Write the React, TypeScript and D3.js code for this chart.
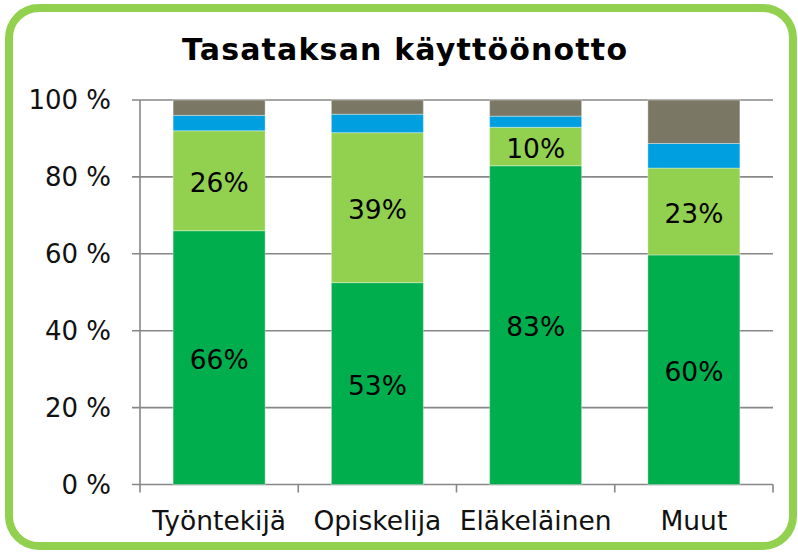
import React from "react";
import * as d3 from "d3";

const title = "Tasataksan käyttöönotto";
const categories = ["Työntekijä", "Opiskelija", "Eläkeläinen", "Muut"];
const seriesKeys = ["s1", "s2", "s3", "s4"];
const s1Values = [66, 52.5, 82.9, 59.7];
const s2Values = [26, 39, 10, 22.6];
const s3Values = [4, 4.8, 2.9, 6.4];
const s4Values = [4, 3.7, 4.2, 11.3];
const s1Labels = ["66%", "53%", "83%", "60%"];
const s2Labels = ["26%", "39%", "10%", "23%"];
const yTicks = [0, 20, 40, 60, 80, 100];
const colors = ["#00AE4D", "#92D050", "#009FDF", "#7A7865"];

export default function App() {
  const W = 798;
  const H = 553;
  const left = 140;
  const right = 773;
  const top = 100;
  const bottom = 484.5;

  const rows = categories.map((c, i) => ({
    cat: c,
    s1: s1Values[i],
    s2: s2Values[i],
    s3: s3Values[i],
    s4: s4Values[i],
  }));
  const stack = d3.stack<any>().keys(seriesKeys)(rows);

  const pi = 0.4186;
  const x = d3
    .scaleBand<string>()
    .domain(categories)
    .range([left, right])
    .paddingInner(pi)
    .paddingOuter(pi / 2);
  const y = d3.scaleLinear().domain([0, 100]).range([bottom, top]);
  const step = x.step();
  const font = "'DejaVu Sans', Verdana, sans-serif";
  const gridColor = "#878787";

  const labels = [s1Labels, s2Labels];

  return (
    <div style={{ position: "fixed", left: 0, top: 0 }}>
      <svg width={W} height={H} style={{ display: "block" }}>
        <rect x={0} y={0} width={W} height={H} fill="#fff" />
        <rect
          x={9}
          y={8}
          width={784}
          height={538}
          rx={30}
          ry={30}
          fill="#fff"
          stroke="#92D050"
          strokeWidth={8}
        />
        <text
          x={404.5}
          y={60}
          textAnchor="middle"
          fontFamily={font}
          fontWeight="bold"
          fontSize={30}
          textLength={445}
          lengthAdjust="spacing"
          fill="#000"
        >
          {title}
        </text>
        {yTicks.map((t) => (
          <g key={t}>
            <line
              x1={left - 8}
              x2={right}
              y1={y(t)}
              y2={y(t)}
              stroke={gridColor}
              strokeWidth={1.6}
            />
            <text
              x={111}
              y={y(t)}
              dy="0.36em"
              textAnchor="end"
              fontFamily={font}
              fontSize={26}
              fill="#111"
            >
              {t} %
            </text>
          </g>
        ))}
        <line x1={left} x2={left} y1={top} y2={bottom} stroke={gridColor} strokeWidth={1.6} />
        {categories.map((c, i) => {
          const x0 = (x(c) as number) - (step * pi) / 2;
          return (
            <line
              key={"t" + i}
              x1={x0}
              x2={x0}
              y1={bottom}
              y2={bottom + 8}
              stroke={gridColor}
              strokeWidth={1.6}
            />
          );
        })}
        <line
          x1={right}
          x2={right}
          y1={bottom}
          y2={bottom + 8}
          stroke={gridColor}
          strokeWidth={1.6}
        />
        {stack.map((layer, li) => (
          <g key={layer.key} fill={colors[li]}>
            {layer.map((d, i) => (
              <rect
                key={i}
                x={x(categories[i])}
                width={x.bandwidth()}
                y={y(d[1])}
                height={y(d[0]) - y(d[1])}
                stroke="rgba(255,255,255,0.35)"
                strokeWidth={1}
              />
            ))}
          </g>
        ))}
        {stack.slice(0, 2).map((layer, li) =>
          layer.map((d, i) => (
            <text
              key={li + "-" + i}
              x={(x(categories[i]) as number) + x.bandwidth() / 2}
              y={y((d[0] + d[1]) / 2) + 1.5}
              dy="0.36em"
              textAnchor="middle"
              fontFamily={font}
              fontSize={26.5}
              fill="#000"
            >
              {labels[li][i]}
            </text>
          ))
        )}
        {categories.map((c) => (
          <text
            key={c}
            x={(x(c) as number) + x.bandwidth() / 2}
            y={530}
            textAnchor="middle"
            fontFamily={font}
            fontSize={26.5}
            fill="#111"
          >
            {c}
          </text>
        ))}
      </svg>
    </div>
  );
}
